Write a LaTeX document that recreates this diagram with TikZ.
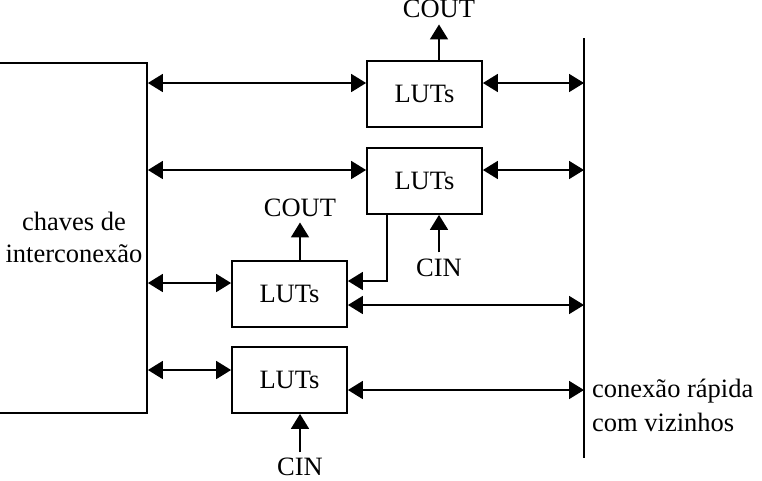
\documentclass[tikz,border=0pt]{standalone}
\usepackage{fontspec}
\setmainfont{Liberation Serif}
\usetikzlibrary{arrows.meta}
\begin{document}
\begin{tikzpicture}[x=1pt,y=-1pt,
  every node/.style={font=\fontsize{26.5}{31}\selectfont},
  lutbox/.style={draw,line width=1.8pt,minimum width=115pt,minimum height=66pt,inner sep=0pt},
  bigbox/.style={draw,line width=1.8pt,minimum width=157pt,minimum height=350pt,inner sep=0pt},
  lbl/.style={inner sep=0pt,anchor=base},
  conn/.style={line width=1.8pt},
  >={Triangle[length=15pt,width=18pt]}]
\useasboundingbox (0,0) rectangle (762,480);
\clip (0,0) rectangle (762,480);
% big switch box (left edge outside the picture)
\node[bigbox] (big) at (68.5,238) {};
\node[lbl] (ch1) at (74,230) {chaves de};
\node[lbl] (ch2) at (74,262) {interconexão};
% LUT blocks
\node[lutbox] (lut1) at (424.5,94) {LUTs};
\node[lutbox] (lut2) at (424.5,181) {LUTs};
\node[lutbox] (lut3) at (289.5,294) {LUTs};
\node[lutbox] (lut4) at (289.5,380) {LUTs};
% fast neighbour bus
\coordinate (bt) at (584,38);
\coordinate (bb) at (584,458);
\draw[conn] (bt) -- (bb);
\node[lbl,anchor=base west] (cn1) at (592,397) {conexão rápida};
\node[lbl,anchor=base west] (cn2) at (592,431) {com vizinhos};
% attachment points
\coordinate (l1w) at ([yshift=11pt]lut1.west);
\coordinate (l2w) at ([yshift=11pt]lut2.west);
\coordinate (l3w) at ([yshift=11pt]lut3.west);
\coordinate (l4w) at ([yshift=10pt]lut4.west);
\coordinate (l1e) at ([yshift=11pt]lut1.east);
\coordinate (l2e) at ([yshift=11pt]lut2.east);
\coordinate (l3e) at ([yshift=-11pt]lut3.east);
\coordinate (l4e) at ([yshift=-10pt]lut4.east);
% switch box <-> LUTs
\draw[conn,<->] (big.east |- l1w) -- (l1w);
\draw[conn,<->] (big.east |- l2w) -- (l2w);
\draw[conn,<->] (big.east |- l3w) -- (l3w);
\draw[conn,<->] (big.east |- l4w) -- (l4w);
% LUTs <-> bus
\draw[conn,<->] (l1e) -- (bt |- l1e);
\draw[conn,<->] (l2e) -- (bt |- l2e);
\draw[conn,<->] (l3e) -- (bt |- l3e);
\draw[conn,<->] (l4e) -- (bt |- l4e);
% carry chain between LUT2 and LUT3
\draw[conn,->] ([xshift=-37.5pt]lut2.south) |- ([yshift=13pt]lut3.east);
% carry out / carry in
\node[lbl] (cout1) at (439,17) {COUT};
\node[lbl] (cout2) at (300,216) {COUT};
\node[lbl] (cin1) at (439,276) {CIN};
\node[lbl] (cin2) at (300,475) {CIN};
\draw[conn,->] (lut1.north -| cout1) -- ([yshift=-7pt]cout1.south);
\draw[conn,->] (lut3.north -| cout2) -- ([yshift=-6pt]cout2.south);
\draw[conn,->] ([yshift=6pt]cin1.north) -- (cin1.north |- lut2.south);
\draw[conn,->] ([yshift=5pt]cin2.north) -- (cin2.north |- lut4.south);
\end{tikzpicture}
\end{document}
